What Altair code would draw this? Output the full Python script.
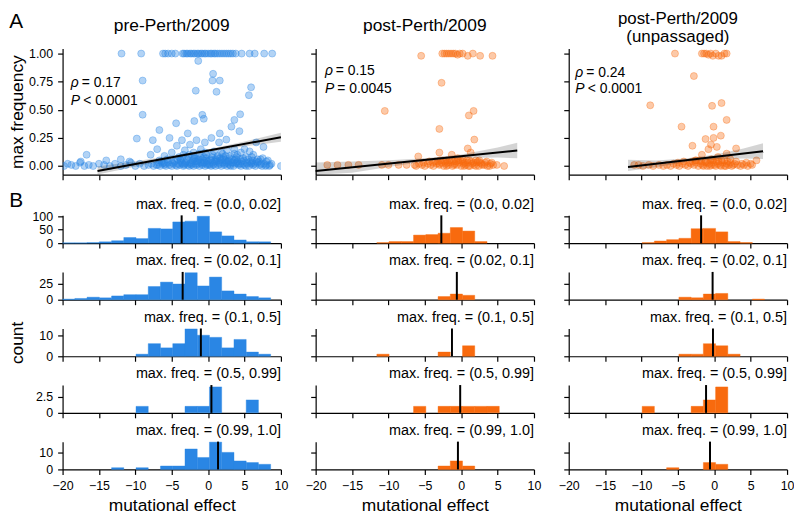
import altair as alt
import pandas as pd

FONT = "Liberation Sans"
BLUE = "#2a86e4"
ORANGE = "#f86a0e"
COLORS = [BLUE, ORANGE, ORANGE]

COLUMN_TITLES = [["pre-Perth/2009"], ["post-Perth/2009"], ["post-Perth/2009", "(unpassaged)"]]
RHO_TEXT = ["= 0.17", "= 0.15", "= 0.24"]
P_TEXT = ["< 0.0001", "= 0.0045", "< 0.0001"]
FREQ_LABELS = ["max. freq. = (0.0, 0.02]", "max. freq. = (0.02, 0.1]", "max. freq. = (0.1, 0.5]",
               "max. freq. = (0.5, 0.99]", "max. freq. = (0.99, 1.0]"]

X_TICKS = [-20, -15, -10, -5, 0, 5, 10]
SCATTER_Y_TICKS = [0.0, 0.25, 0.5, 0.75, 1.0]

# ---------------- panel A: scatter points (mutational effect, max frequency)
PRE_POINTS = [
    (-11.9, 1.0), (-9.2, 1.0), (-6.2, 1.0), (-5.9, 1.0), (-5.5, 1.0), (-5.0, 1.0), (-4.5, 1.0),
    (-3.5, 1.0), (-3.3, 1.0), (-3.0, 1.0), (-2.8, 1.0), (-2.5, 1.0), (-2.3, 1.0), (-2.0, 1.0),
    (-1.8, 1.0), (-1.5, 1.0), (-1.3, 1.0), (-1.0, 1.0), (-0.8, 1.0), (-0.5, 1.0), (-0.3, 1.0),
    (0.0, 1.0), (0.3, 1.0), (0.5, 1.0), (0.8, 1.0), (1.0, 1.0), (1.3, 1.0), (1.6, 1.0), (1.9, 1.0),
    (2.2, 1.0), (2.5, 1.0), (2.8, 1.0), (3.1, 1.0), (3.4, 1.0), (3.8, 1.0), (4.6, 1.0), (5.7, 1.0),
    (6.4, 1.0), (7.7, 1.0), (8.8, 1.0),
    (-1.36, 0.935), (0.68, 0.82), (0.6, 0.76), (1.6, 0.76), (1.15, 0.66), (-1.7, 0.67), (5.9, 0.70),
    (5.6, 0.63), (-9.0, 0.76), (-9.0, 0.456), (-0.8, 0.455), (-0.6, 0.42), (-1.9, 0.40), (4.4, 0.46),
    (3.6, 0.41), (3.2, 0.35), (4.3, 0.31), (-4.4, 0.38), (-6.7, 0.32), (-2.8, 0.29), (1.6, 0.29),
    (-5.3, 0.25), (-3.6, 0.23), (-1.6, 0.23), (0.45, 0.25), (2.5, 0.235), (-7.6, 0.23), (6.6, 0.21),
    (7.6, 0.17), (-7.0, 0.15), (-4.3, 0.18), (-2.5, 0.19), (-0.45, 0.21), (1.5, 0.21), (3.6, 0.15),
    (5.7, 0.13), (-9.8, 0.244), (-16.7, 0.10),
    (-7.9, 0.10), (-6.0, 0.09), (-5.0, 0.12), (-4.0, 0.08), (-3.2, 0.14), (-2.0, 0.12), (-1.0, 0.15),
    (-0.2, 0.10), (0.8, 0.13), (2.0, 0.11), (3.0, 0.09), (4.5, 0.12), (5.2, 0.08), (6.2, 0.10),
    (6.8, 0.06), (7.5, 0.07), (8.2, 0.05), (-12.0, 0.06), (-10.8, 0.04), (-14.0, 0.05), (-17.5, 0.04),
    (-3.8, 0.06), (-1.7, 0.07), (1.2, 0.07), (3.8, 0.06), (2.6, 0.14), (-0.6, 0.08), (5.0, 0.15),
    (-2.6, 0.10), (4.0, 0.10),
    (-19.8, 0.0), (-19.3, 0.02), (-18.8, 0.01), (-18.2, 0.0), (-17.6, 0.03), (-17.0, 0.0),
    (-16.4, 0.01), (-15.8, 0.0), (-15.0, 0.02), (-14.3, 0.01), (-13.5, 0.0), (-12.8, 0.02),
    (-12.0, 0.0), (-11.3, 0.01), (-10.6, 0.03), (-10.0, 0.0), (-9.4, 0.02), (-8.8, 0.0), (-8.2, 0.01),
    (-7.8, 0.02), (-7.5, 0.0), (-7.1, 0.01), (-6.8, 0.03), (-6.6, 0.0), (-6.3, 0.02), (-6.0, 0.01),
    (-5.8, 0.0), (-5.5, 0.03), (-5.3, 0.01), (-5.0, 0.0), (-4.8, 0.02), (-4.6, 0.04), (-4.3, 0.0),
    (-4.1, 0.02), (-3.9, 0.01), (-3.7, 0.03), (-3.4, 0.0), (-3.2, 0.02), (-3.0, 0.04), (-2.8, 0.01),
    (-2.6, 0.0), (-2.4, 0.03), (-2.2, 0.02), (-2.0, 0.0), (-1.8, 0.04), (-1.6, 0.01), (-1.4, 0.02),
    (-1.2, 0.0), (-1.0, 0.03), (-0.8, 0.01), (-0.6, 0.05), (-0.4, 0.0), (-0.2, 0.02), (0.0, 0.04),
    (0.2, 0.01), (0.4, 0.0), (0.6, 0.03), (0.8, 0.02), (1.0, 0.0), (1.2, 0.04), (1.4, 0.01),
    (1.6, 0.02), (1.8, 0.0), (2.0, 0.03), (2.2, 0.01), (2.4, 0.05), (2.6, 0.0), (2.8, 0.02),
    (3.0, 0.01), (3.2, 0.03), (3.5, 0.0), (3.7, 0.02), (4.0, 0.04), (4.2, 0.01), (4.5, 0.0),
    (4.8, 0.02), (5.0, 0.01), (5.3, 0.03), (5.6, 0.0), (5.9, 0.02), (6.2, 0.01), (6.5, 0.0),
    (6.8, 0.03), (7.1, 0.01), (7.4, 0.0), (7.7, 0.02), (8.0, 0.01), (8.4, 0.0), (8.7, 0.02), (10.0, 0.0),
    (-6.9, 0.01), (-6.4, 0.04), (-5.9, 0.02), (-5.1, 0.05), (-4.4, 0.01), (-3.8, 0.05), (-3.3, 0.01),
    (-2.9, 0.06), (-2.5, 0.02), (-2.1, 0.05), (-1.7, 0.02), (-1.3, 0.06), (-0.9, 0.02), (-0.5, 0.03),
    (-0.1, 0.01), (0.3, 0.06), (0.7, 0.01), (1.1, 0.05), (1.5, 0.03), (1.9, 0.06), (2.3, 0.02),
    (2.7, 0.04), (3.1, 0.0), (3.6, 0.05), (4.1, 0.02), (4.6, 0.04), (5.2, 0.0), (5.8, 0.04),
    (6.4, 0.02), (7.0, 0.04),
    (-3.6, 0.07), (-3.1, 0.03), (-2.7, 0.08), (-2.3, 0.01), (-1.9, 0.07), (-1.5, 0.04), (-1.1, 0.08),
    (-0.7, 0.03), (-0.3, 0.07), (0.1, 0.02), (0.5, 0.08), (0.9, 0.04), (1.3, 0.09), (1.7, 0.05),
    (2.1, 0.08), (2.5, 0.03), (2.9, 0.07), (3.4, 0.03), (3.9, 0.08), (4.4, 0.06), (5.5, 0.06),
    (6.1, 0.05), (7.2, 0.06), (8.0, 0.04),
    (-6.7, 0.05), (-6.1, 0.03), (-5.6, 0.06), (-4.9, 0.03), (-4.2, 0.06), (-3.5, 0.02), (-2.0, 0.06),
    (-1.4, 0.05), (-0.8, 0.06), (-0.2, 0.05), (0.4, 0.05), (1.0, 0.06), (1.6, 0.07), (2.2, 0.06),
    (2.8, 0.05), (3.3, 0.06), (3.9, 0.03), (4.4, 0.02), (4.9, 0.05), (5.4, 0.02), (6.0, 0.03),
    (6.6, 0.04), (7.3, 0.02), (7.9, 0.0), (8.5, 0.01),
    (-3.4, 0.10), (-1.2, 0.11), (0.6, 0.10), (2.4, 0.09), (3.6, 0.11), (1.8, 0.12), (-0.4, 0.12),
    (-2.2, 0.09), (4.8, 0.07), (6.0, 0.08),
]

POST_POINTS = [
    (-5.5, 0.98), (-2.6, 1.0), (-2.3, 1.0), (-2.0, 1.0), (-1.7, 1.0), (-1.4, 1.0), (-1.1, 1.0),
    (-0.8, 1.0), (-0.5, 0.99), (-0.2, 1.0), (0.2, 1.0), (0.9, 0.98), (1.6, 1.0), (2.6, 0.98), (4.3, 0.98),
    (-2.7, 0.74), (-10.5, 0.49), (1.7, 0.49), (1.05, 0.45), (-3.0, 0.33), (1.8, 0.235), (0.9, 0.156),
    (-3.0, 0.12), (-5.9, 0.085), (-1.3, 0.10), (1.3, 0.12), (0.2, 0.06), (-0.5, 0.07), (2.5, 0.05),
    (-2.0, 0.05), (3.5, 0.04),
    (-18.4, 0.01), (-17.0, 0.01), (-15.5, 0.01), (-14.1, 0.01), (-10.9, 0.01), (-10.0, 0.01),
    (-8.6, 0.01), (-7.5, 0.01), (-6.4, 0.01),
    (-6.2, 0.0), (-5.8, 0.02), (-5.4, 0.01), (-5.0, 0.0), (-4.6, 0.02), (-4.2, 0.01), (-3.8, 0.0),
    (-3.4, 0.02), (-3.0, 0.01), (-2.7, 0.03), (-2.4, 0.0), (-2.1, 0.02), (-1.8, 0.01), (-1.5, 0.03),
    (-1.2, 0.0), (-0.9, 0.02), (-0.6, 0.01), (-0.3, 0.03), (0.0, 0.0), (0.3, 0.02), (0.6, 0.01),
    (0.9, 0.03), (1.2, 0.0), (1.5, 0.02), (1.8, 0.01), (2.1, 0.03), (2.4, 0.0), (2.8, 0.02),
    (3.2, 0.01), (3.6, 0.0), (4.0, 0.02),
    (-3.6, 0.04), (-2.9, 0.05), (-2.2, 0.04), (-1.6, 0.05), (-1.0, 0.04), (-0.4, 0.05), (0.2, 0.04),
    (0.8, 0.05), (1.4, 0.04), (2.0, 0.05), (2.6, 0.03),
    (-5.2, 0.03), (-4.4, 0.04), (-3.9, 0.03), (-3.2, 0.04), (-2.5, 0.05), (-1.9, 0.03), (-1.3, 0.05),
    (-0.7, 0.04), (-0.1, 0.05), (0.5, 0.03), (1.1, 0.05), (1.7, 0.03), (2.3, 0.04), (2.9, 0.01),
    (3.3, 0.03), (3.9, 0.0), (4.2, 0.03), (1.0, 0.0), (-1.0, 0.01), (-2.0, 0.0), (0.4, 0.0),
    (2.0, 0.0), (-3.0, 0.02),
    (4.4, 0.01), (4.9, 0.01), (5.9, 0.0),
]

UNP_POINTS = [
    (-5.4, 1.0), (-1.7, 1.0), (-1.4, 1.0), (-1.1, 1.0), (-0.8, 0.99), (-0.5, 1.0), (-0.2, 0.98),
    (0.2, 1.0), (0.6, 0.98), (1.0, 0.98), (1.4, 1.0), (1.7, 1.0),
    (-2.8, 0.80), (-8.8, 0.54), (-0.3, 0.535), (1.0, 0.56), (1.7, 0.41), (-4.5, 0.35), (-0.1, 0.35),
    (-1.2, 0.24), (-0.1, 0.25), (0.9, 0.27), (-3.0, 0.18), (-0.8, 0.15), (-0.45, 0.19), (0.35, 0.17),
    (3.0, 0.156), (1.7, 0.11), (-1.7, 0.10), (0.5, 0.08), (-0.4, 0.06), (2.2, 0.06), (-2.5, 0.05),
    (-11.0, 0.01), (-10.4, 0.01), (-9.8, 0.0), (-9.0, 0.01), (-8.4, 0.0), (-7.6, 0.01), (-7.0, 0.0),
    (-6.5, 0.01),
    (-6.0, 0.0), (-5.6, 0.02), (-5.2, 0.01), (-4.8, 0.0), (-4.4, 0.02), (-4.0, 0.01), (-3.6, 0.0),
    (-3.2, 0.02), (-2.8, 0.01), (-2.5, 0.03), (-2.2, 0.0), (-1.9, 0.02), (-1.6, 0.01), (-1.3, 0.03),
    (-1.0, 0.0), (-0.7, 0.02), (-0.4, 0.01), (-0.1, 0.03), (0.2, 0.0), (0.5, 0.02), (0.8, 0.01),
    (1.1, 0.03), (1.4, 0.0), (1.7, 0.02), (2.0, 0.01), (2.4, 0.0), (2.8, 0.02), (3.2, 0.01), (3.6, 0.0),
    (-3.0, 0.04), (-2.0, 0.05), (-1.2, 0.04), (-0.5, 0.05), (0.3, 0.04), (1.0, 0.05), (1.8, 0.04),
    (-5.0, 0.03), (-4.2, 0.04), (-3.4, 0.03), (-2.6, 0.05), (-1.8, 0.04), (-1.0, 0.03), (-0.2, 0.05),
    (0.6, 0.04), (1.4, 0.05), (2.2, 0.03), (3.0, 0.04), (3.8, 0.02), (-0.6, 0.0), (0.0, 0.01),
    (0.9, 0.0), (-1.5, 0.0), (1.6, 0.0), (2.6, 0.01), (4.4, 0.03), (5.0, 0.02),
    (4.1, 0.01), (4.6, 0.0), (5.2, 0.01), (5.8, 0.05),
]
SCATTER_POINTS = [PRE_POINTS, POST_POINTS, UNP_POINTS]

# regression line end points and confidence band (x, low, high)
LINE_X = [[-15.2, 10.0], [-20.0, 7.7], [-11.85, 6.7]]
LINE_Y = [[-0.044, 0.256], [-0.044, 0.138], [-0.009, 0.132]]
BAND_X = [[-15.2, -10.0, -5.0, 0.0, 5.0, 10.0],
          [-20.0, -15.0, -10.0, -5.0, 0.0, 5.0, 7.7],
          [-11.85, -8.0, -4.0, 0.0, 4.0, 6.7]]
BAND_LO = [[-0.075, -0.007, 0.062, 0.125, 0.175, 0.216],
           [-0.077, -0.061, -0.008, 0.040, 0.072, 0.075, 0.068],
           [-0.045, -0.010, 0.036, 0.061, 0.066, 0.062]]
BAND_HI = [[-0.004, 0.043, 0.092, 0.149, 0.219, 0.296],
           [0.031, 0.039, 0.052, 0.070, 0.102, 0.165, 0.206],
           [0.055, 0.050, 0.066, 0.101, 0.156, 0.202]]

# ---------------- panel B: histograms (bin edges shared, counts per bin)
EDGES = [-20.0, -18.32, -16.64, -14.95, -13.27, -11.59, -9.91, -8.23, -6.55, -4.86,
         -3.18, -1.50, 0.18, 1.86, 3.55, 5.23, 6.91, 8.59]

HIST_PRE = [
    [1, 1, 2, 5, 9, 21, 17, 55, 53, 79, 82, 100, 42, 27, 12, 5, 5],
    [1, 2, 4, 3, 6, 8, 8, 21, 28, 25, 43, 22, 36, 14, 9, 5, 3],
    [0, 0, 0, 0, 0, 0, 1, 6, 4, 6, 13, 10, 9, 4, 8, 2, 1],
    [0, 0, 0, 0, 0, 0, 1, 0, 0, 0, 1, 1, 4, 0, 0, 2, 0],
    [0, 0, 0, 0, 1, 0, 1, 0, 2, 2, 12, 7, 16, 10, 5, 4, 3],
]
HIST_POST = [
    [0, 0, 0, 0, 0, 2, 6, 6, 30, 32, 37, 58, 45, 6, 0, 0, 0],
    [0, 0, 0, 0, 0, 0, 0, 0, 0, 0, 5, 9, 7, 0, 0, 0, 0],
    [0, 0, 0, 0, 0, 1, 0, 0, 0, 0, 2, 0, 5, 0, 0, 0, 0],
    [0, 0, 0, 0, 0, 0, 0, 0, 1, 0, 1, 1, 1, 1, 1, 0, 0],
    [0, 0, 0, 0, 0, 0, 0, 0, 0, 0, 2, 5, 2, 0, 0, 0, 0],
]
HIST_UNP = [
    [0, 0, 0, 0, 0, 0, 2, 8, 13, 18, 54, 55, 42, 6, 2, 0, 0],
    [0, 0, 0, 0, 0, 0, 0, 0, 0, 4, 3, 9, 10, 0, 0, 1, 0],
    [0, 0, 0, 0, 0, 0, 0, 0, 0, 1, 1, 6, 5, 1, 0, 0, 0],
    [0, 0, 0, 0, 0, 0, 1, 0, 0, 0, 1, 2, 4, 0, 0, 0, 0],
    [0, 0, 0, 0, 0, 0, 0, 0, 1, 0, 0, 4, 3, 0, 0, 0, 0],
]
HISTS = [HIST_PRE, HIST_POST, HIST_UNP]

MEDIANS = [[-3.64, -3.5, -1.0, 0.45, 1.36],
           [-2.73, -0.6, -1.27, -0.14, -0.45],
           [-1.81, -0.23, -0.18, -1.13, -0.59]]

HIST_YMAX = [103.5, 44.2, 13.2, 4.29, 16.3]
HIST_YTICKS = [[0, 50, 100], [0, 25], [0, 10], [0, 2.5], [0, 10]]

W = 220
H_SCAT = 139
H_SCAT_RANGE = 127
H_HIST = 28

XS = alt.Scale(domain=[-20, 10], nice=False, zero=False)


def label_layer(texts, xs, ys, size, align, style="normal"):
    df = pd.DataFrame({"t": texts, "px": xs, "py": ys})
    return alt.Chart(df).mark_text(align=align, baseline="alphabetic", fontSize=size, font=FONT,
                                   fontStyle=style, color="black").encode(
        x=alt.X("px:Q", scale=None), y=alt.Y("py:Q", scale=None), text="t:N")


def scatter_panel(c):
    col = COLORS[c]
    pts = pd.DataFrame(SCATTER_POINTS[c], columns=["x", "y"])
    line = pd.DataFrame({"x": LINE_X[c], "y": LINE_Y[c]})
    band = pd.DataFrame({"x": BAND_X[c], "lo": BAND_LO[c], "hi": BAND_HI[c]})
    ys = alt.Scale(domain=[-0.077, 1.044], range=[H_SCAT_RANGE, 0], nice=False, zero=False)
    xax = alt.Axis(values=X_TICKS, labels=False, title=None, offset=-(H_SCAT - H_SCAT_RANGE))
    if c == 0:
        yax = alt.Axis(values=SCATTER_Y_TICKS, format=".2f", title="max frequency",
                       titleX=-36, titleBaseline="bottom")
    else:
        yax = alt.Axis(values=SCATTER_Y_TICKS, labels=False, title=None)
    X = alt.X("x:Q", scale=XS, axis=xax)
    p = alt.Chart(pts).mark_circle(size=50, color=col, fillOpacity=0.36, stroke=col,
                                   strokeOpacity=0.5, strokeWidth=0.7, clip=True).encode(
        x=X, y=alt.Y("y:Q", scale=ys, axis=yax))
    b = alt.Chart(band).mark_area(color="black", opacity=0.17).encode(
        x=X, y=alt.Y("lo:Q", scale=ys, axis=yax), y2="hi:Q")
    l = alt.Chart(line).mark_line(color="black", strokeWidth=2).encode(
        x=X, y=alt.Y("y:Q", scale=ys, axis=yax))
    offs = [(8.3, 39, 56.7), (9.3, 26.7, 44.3), (6.7, 28.3, 44.3)][c]
    t1 = label_layer(["ρ", "P"], [offs[0], offs[0]], [offs[1], offs[2]], 14, "left", "italic")
    t2 = label_layer([RHO_TEXT[c], P_TEXT[c]], [offs[0] + 11, offs[0] + 12.5],
                     [offs[1], offs[2]], 14, "left")
    title = COLUMN_TITLES[c]
    if len(title) == 1:
        tt = label_layer(title, [W / 2], [-17.7], 17.5, "center")
    else:
        tt = label_layer(title, [W / 2, W / 2], [-24.5, -7], 17, "center")
    layers = [p, b, l, t1, t2, tt]
    if c == 0:
        layers.append(label_layer(["A"], [-53.7], [-20.5], 21, "left"))
    return alt.layer(*layers).properties(width=W, height=H_SCAT)


def hist_panel(r, c):
    col = COLORS[c]
    counts = HISTS[c][r]
    df = pd.DataFrame({"x0": EDGES[:-1], "x1": EDGES[1:], "n": counts})
    df = df[df["n"] > 0]
    ys = alt.Scale(domain=[0, HIST_YMAX[r]], nice=False, zero=False)
    if r == 4:
        xax = alt.Axis(values=X_TICKS, title="mutational effect", titleY=41,
                       titleBaseline="alphabetic", titleFontSize=17.5)
    else:
        xax = alt.Axis(values=X_TICKS, labels=False, title=None)
    if c == 0:
        yax = alt.Axis(values=HIST_YTICKS[r], labelExpr="'' + datum.value",
                       title="count" if r == 2 else None, titleX=-36, titleBaseline="bottom")
    else:
        yax = alt.Axis(values=HIST_YTICKS[r], labels=False, title=None)
    X = alt.X("x0:Q", scale=XS, axis=xax)
    bars = alt.Chart(df).mark_rect(color=col, stroke=col, strokeWidth=0.4).encode(
        x=X, x2="x1:Q", y=alt.Y("n:Q", scale=ys, axis=yax), y2=alt.datum(0))
    med = alt.Chart(pd.DataFrame({"x0": [MEDIANS[c][r]]})).mark_rule(
        color="black", strokeWidth=2).encode(x=X)
    tt = label_layer([FREQ_LABELS[r]], [W], [-6.7], 14.5, "right")
    layers = [bars, med, tt]
    if c == 0 and r == 0:
        layers.append(label_layer(["B"], [-53.7], [-8], 21, "left"))
    return alt.layer(*layers).properties(width=W, height=H_HIST)


panels = [scatter_panel(c) for c in range(3)]
for r in range(5):
    for c in range(3):
        panels.append(hist_panel(r, c))

chart = alt.concat(*panels, columns=3, spacing={"row": 29, "column": 35},
                   bounds="flush", align="each").properties(
    padding={"left": 0, "top": 0, "right": 0, "bottom": 0}
).configure_view(stroke=None).configure_axis(
    grid=False, domainColor="black", domainWidth=1.2, tickColor="black", tickWidth=1.2,
    tickSize=5, labelFont=FONT, labelFontSize=12.5, labelColor="black", labelPadding=5,
    titleFont=FONT, titleFontSize=17.5, titleFontWeight="normal", titleColor="black",
    labelFlush=False, labelOverlap=False
)

chart.save("out.html", embed_options={"renderer": "svg", "actions": False})
